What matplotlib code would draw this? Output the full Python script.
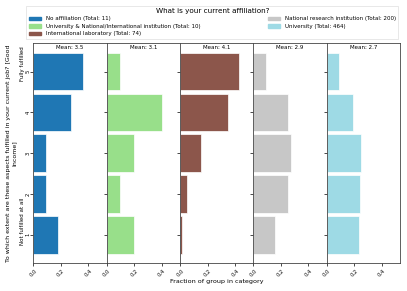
import matplotlib
matplotlib.use("Agg")
import matplotlib.pyplot as plt
from matplotlib.patches import Patch
import numpy as np

levels = [1, 2, 3, 4, 5]
groups = ["No affiliation", "University & National/International institution",
          "International laboratory", "National research institution", "University"]
totals = [11, 10, 74, 200, 464]
colors = ["#1f77b4", "#98df8a", "#8c564b", "#c7c7c7", "#9edae5"]
# fractions for answer levels 1..5
frac_no_affiliation = [0.182, 0.091, 0.091, 0.273, 0.364]
frac_univ_national = [0.20, 0.10, 0.20, 0.40, 0.10]
frac_intl_lab = [0.0135, 0.054, 0.149, 0.351, 0.432]
frac_national = [0.155, 0.255, 0.27, 0.25, 0.092]
frac_university = [0.231, 0.242, 0.247, 0.19, 0.09]
fractions = [frac_no_affiliation, frac_univ_national, frac_intl_lab, frac_national, frac_university]
means = [3.5, 3.1, 4.1, 2.9, 2.7]
xticks = [0.0, 0.2, 0.4]
ylabel = "To which extent are these aspects fulfilled in your current job? [Good\nIncome]"
top_label = "Fully fulfilled"
bottom_label = "Not fulfilled at all"
xlabel = "Fraction of group in category"
legend_title = "What is your current affiliation?"

fig = plt.figure(figsize=(4.07, 2.91), dpi=100)
left, right, top, bottom = 0.0819, 0.983, 0.852, 0.095
axes = fig.subplots(1, 5, sharey=True, gridspec_kw=dict(left=left, right=right, top=top, bottom=bottom, wspace=0))

for i, ax in enumerate(axes):
    ax.barh(levels, fractions[i], height=0.92, color=colors[i], edgecolor="white", linewidth=0.5)
    ax.set_xlim(0, 0.533)
    ax.set_ylim(0.3, 5.7)
    ax.set_xticks(xticks)
    ax.set_xticklabels([f"{t:.1f}" for t in xticks], rotation=45, fontsize=3.8)
    ax.tick_params(axis="x", length=2, width=0.5, pad=1.5, labelsize=3.8)
    ax.tick_params(axis="y", length=2, width=0.5, pad=0.2, labelsize=3.8)
    for s in ax.spines.values():
        s.set_linewidth(0.6)
        s.set_color("#444444")
    ax.text(0.5, 0.99, f"Mean: {means[i]}", transform=ax.transAxes, ha="center", va="top", fontsize=4)

axes[0].set_yticks(levels)
axes[0].set_yticklabels([str(l) for l in levels], rotation=90, va="center", fontsize=3.8)
ytr = axes[0].get_yaxis_transform()
axes[0].text(-0.147, 5.19, top_label, transform=ytr, rotation=90, ha="center", va="center", fontsize=4)
axes[0].text(-0.147, 1.33, bottom_label, transform=ytr, rotation=90, ha="center", va="center", fontsize=4)
axes[0].set_ylabel(ylabel, fontsize=4.5, linespacing=1.1)
axes[0].yaxis.set_label_coords(-0.23, 0.5)

fig.text(0.532, 1 - 282 / 291, xlabel, ha="center", va="center", fontsize=4.6)

handles = [Patch(color=c) for c in colors]
labels = [f"{g} (Total: {t})" for g, t in zip(groups, totals)]
leg = fig.legend(handles, labels, loc="upper left", bbox_to_anchor=(0.058, 0.875, 0.927, 0.115),
                 mode="expand", ncol=2, fontsize=4, title=legend_title, title_fontsize=5.2,
                 handlelength=2.3, handleheight=0.6, labelspacing=0.45, borderpad=0.4,
                 fancybox=False, edgecolor="#dddddd")
leg.get_frame().set_linewidth(0.6)

fig.savefig("out.png", dpi=100)
